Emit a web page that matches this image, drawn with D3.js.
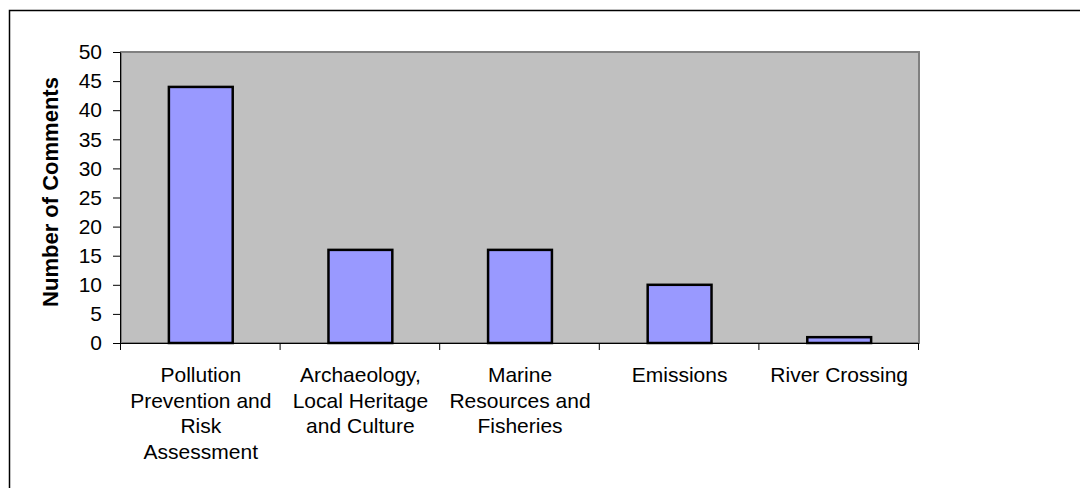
<!DOCTYPE html>
<html>
<head>
<meta charset="utf-8">
<script src="https://cdn.jsdelivr.net/npm/d3@7"></script>
<style>
  body { margin: 0; background: #fff; }
  svg { display: block; font-family: "Liberation Sans", Arial, sans-serif; }
</style>
</head>
<body>
<script>
// chart data
const categories = [
  ["Pollution", "Prevention and", "Risk", "Assessment"],
  ["Archaeology,", "Local Heritage", "and Culture"],
  ["Marine", "Resources and", "Fisheries"],
  ["Emissions"],
  ["River Crossing"]
];
const comments = [44, 16, 16, 10, 1];
const yTicks = [0, 5, 10, 15, 20, 25, 30, 35, 40, 45, 50];

const width = 1080, height = 488;
const plot = { left: 121, right: 919, top: 52, bottom: 343 };

const svg = d3.select("body").append("svg")
  .attr("width", width)
  .attr("height", height);

// outer chart border (runs off the right/bottom edge)
svg.append("rect")
  .attr("x", 9.5).attr("y", 10.5)
  .attr("width", 1100).attr("height", 500)
  .attr("fill", "#fff")
  .attr("stroke", "#000")
  .attr("stroke-width", 1.5);

const x = d3.scaleBand()
  .domain(d3.range(categories.length))
  .range([plot.left, plot.right])
  .paddingInner(0.6)
  .paddingOuter(0.3);

const xb = d3.scaleBand()
  .domain(d3.range(categories.length))
  .range([plot.left, plot.right]);

const y = d3.scaleLinear()
  .domain([0, 50])
  .range([plot.bottom, plot.top]);

// plot area
svg.append("rect")
  .attr("x", plot.left).attr("y", plot.top)
  .attr("width", plot.right - plot.left)
  .attr("height", plot.bottom - plot.top)
  .attr("fill", "#c0c0c0")
  .attr("stroke", "#808080")
  .attr("stroke-width", 2);

// bars
svg.append("g")
  .selectAll("rect")
  .data(comments)
  .join("rect")
  .attr("x", (d, i) => x(i))
  .attr("y", d => y(d))
  .attr("width", x.bandwidth())
  .attr("height", d => y(0) - y(d))
  .attr("fill", "#9999ff")
  .attr("stroke", "#000")
  .attr("stroke-width", 2.5);

// y axis
const yAxis = svg.append("g")
  .attr("transform", `translate(${plot.left - 1},0)`)
  .call(d3.axisLeft(y).tickValues(yTicks).tickSize(7).tickPadding(11));
yAxis.select(".domain").attr("stroke", "#000");
yAxis.selectAll("text")
  .attr("font-size", 21)
  .attr("fill", "#000")
  .attr("font-family", "Liberation Sans, Arial, sans-serif");

// x axis line with category divider ticks
const xAxis = svg.append("g");
xAxis.append("line")
  .attr("x1", plot.left - 8).attr("x2", plot.right)
  .attr("y1", plot.bottom + 0.5).attr("y2", plot.bottom + 0.5)
  .attr("stroke", "#000");
xAxis.selectAll("line.tick")
  .data(d3.range(categories.length + 1))
  .join("line")
  .attr("class", "tick")
  .attr("x1", d => (d < categories.length ? xb(d) : plot.right) - 0.5)
  .attr("x2", d => (d < categories.length ? xb(d) : plot.right) - 0.5)
  .attr("y1", plot.bottom)
  .attr("y2", plot.bottom + 7)
  .attr("stroke", "#000");

// category labels
const labels = svg.append("g")
  .selectAll("text")
  .data(categories)
  .join("text")
  .attr("x", (d, i) => xb(i) + xb.bandwidth() / 2)
  .attr("y", 382)
  .attr("text-anchor", "middle")
  .attr("font-size", 21)
  .attr("fill", "#000");
labels.selectAll("tspan")
  .data(d => d)
  .join("tspan")
  .attr("x", function () { return d3.select(this.parentNode).attr("x"); })
  .attr("dy", (d, i) => i === 0 ? 0 : 25.5)
  .text(d => d);

// y axis title
svg.append("text")
  .attr("transform", "translate(58,192) rotate(-90)")
  .attr("text-anchor", "middle")
  .attr("font-size", 22)
  .attr("font-weight", "bold")
  .attr("fill", "#000")
  .text("Number of Comments");
</script>
</body>
</html>
